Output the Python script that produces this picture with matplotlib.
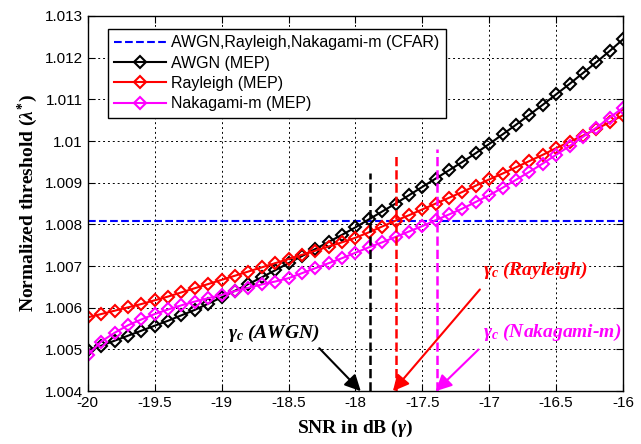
import numpy as np
import matplotlib
matplotlib.use('Agg')
import matplotlib.pyplot as plt
import matplotlib.lines as mlines

plt.rcParams['font.family'] = ['Liberation Sans', 'DejaVu Sans']
plt.rcParams['mathtext.fontset'] = 'custom'
plt.rcParams['mathtext.it'] = 'Liberation Serif:italic:bold'
plt.rcParams['mathtext.rm'] = 'Liberation Serif:bold'
plt.rcParams['mathtext.bf'] = 'Liberation Serif:bold'

# SNR grid (dB)
snr = [-20.0, -19.9, -19.8, -19.7, -19.6, -19.5, -19.4, -19.3, -19.2, -19.1,
       -19.0, -18.9, -18.8, -18.7, -18.6, -18.5, -18.4, -18.3, -18.2, -18.1,
       -18.0, -17.9, -17.8, -17.7, -17.6, -17.5, -17.4, -17.3, -17.2, -17.1,
       -17.0, -16.9, -16.8, -16.7, -16.6, -16.5, -16.4, -16.3, -16.2, -16.1,
       -16.0]

awgn_mep = [1.00498, 1.00509, 1.00521, 1.00533, 1.00545, 1.00557, 1.00569, 1.00582, 1.00595, 1.00610,
            1.00625, 1.00641, 1.00657, 1.00673, 1.00690, 1.00707, 1.00724, 1.00741, 1.00758, 1.00775,
            1.00793, 1.00812, 1.00831, 1.00850, 1.00870, 1.00890, 1.00910, 1.00930, 1.00950, 1.00971,
            1.00993, 1.01016, 1.01039, 1.01063, 1.01087, 1.01112, 1.01137, 1.01163, 1.01189, 1.01216,
            1.01244]

rayleigh_mep = [1.00577, 1.00585, 1.00593, 1.00601, 1.00609, 1.00618, 1.00627, 1.00637, 1.00647, 1.00657,
                1.00667, 1.00677, 1.00687, 1.00697, 1.00707, 1.00717, 1.00727, 1.00737, 1.00747, 1.00757,
                1.00768, 1.00781, 1.00795, 1.00809, 1.00822, 1.00836, 1.00850, 1.00864, 1.00878, 1.00893,
                1.00908, 1.00922, 1.00937, 1.00952, 1.00967, 1.00983, 1.00998, 1.01013, 1.01029, 1.01045,
                1.01062]

nakagami_mep = [1.00487, 1.00519, 1.00540, 1.00558, 1.00572, 1.00585, 1.00596, 1.00606, 1.00615, 1.00623,
                1.00631, 1.00640, 1.00648, 1.00656, 1.00663, 1.00671, 1.00683, 1.00695, 1.00707, 1.00719,
                1.00732, 1.00745, 1.00757, 1.00770, 1.00783, 1.00796, 1.00810, 1.00824, 1.00838, 1.00854,
                1.00870, 1.00888, 1.00907, 1.00926, 1.00946, 1.00967, 1.00988, 1.01010, 1.01032, 1.01056,
                1.01080]

cfar_level = 1.00808

# crossing points gamma_c (x position, top of dashed marker line)
gamma_c_names = ['AWGN', 'Rayleigh', 'Nakagami-m']
gamma_c_x = [-17.89, -17.70, -17.39]
gamma_c_top = [1.00924, 1.00966, 1.00980]
colors = ['black', 'red', 'magenta']

# label text positions, arrow starts and arrow tips
label_pos = [(-18.95, 1.00538), (-17.05, 1.00690), (-17.05, 1.00541)]
arrow_from = [(-18.27, 1.00503), (-17.07, 1.00644), (-17.08, 1.00500)]
arrow_to = [(-17.96, 1.0040), (-17.72, 1.0040), (-17.40, 1.0040)]

fig = plt.figure(figsize=(6.41, 4.44), dpi=100)
ax = fig.add_axes([0.137, 0.119, 0.835, 0.845])

ax.plot([-20, -16], [cfar_level, cfar_level], color='blue', linestyle='--', linewidth=1.5)
for ys, c in zip([awgn_mep, rayleigh_mep, nakagami_mep], colors):
    ax.plot(snr, ys, color=c, linewidth=1.5, marker='D', markersize=6.5,
            markerfacecolor='none', markeredgewidth=1.5)

for x, top, c in zip(gamma_c_x, gamma_c_top, colors):
    ax.plot([x, x], [1.004, top], color=c, linestyle='--', linewidth=1.8)

for name, c, pos, a0, a1 in zip(gamma_c_names, colors, label_pos, arrow_from, arrow_to):
    ax.text(pos[0], pos[1], r'$\gamma_c$ (' + name + ')', color=c, fontsize=14,
            family='Liberation Serif', weight='bold', style='italic', va='center')
    ax.annotate('', xy=a1, xytext=a0,
                arrowprops=dict(arrowstyle='-|>', color=c, lw=1.5, mutation_scale=24,
                                shrinkA=0, shrinkB=0))

ax.set_xlim(-20, -16)
ax.set_ylim(1.004, 1.013)
xt = [-20, -19.5, -19, -18.5, -18, -17.5, -17, -16.5, -16]
xtl = ['-20', '-19.5', '-19', '-18.5', '-18', '-17.5', '-17', '-16.5', '-16']
yt = [1.004, 1.005, 1.006, 1.007, 1.008, 1.009, 1.010, 1.011, 1.012, 1.013]
ytl = ['1.004', '1.005', '1.006', '1.007', '1.008', '1.009', '1.01', '1.011', '1.012', '1.013']
ax.set_xticks(xt)
ax.set_xticklabels(xtl)
ax.set_yticks(yt)
ax.set_yticklabels(ytl)
ax.tick_params(direction='in', top=True, right=True, labelsize=11, length=5)
ax.grid(True, color='black', linestyle=(0, (2, 3)), linewidth=0.7)
for s in ax.spines.values():
    s.set_linewidth(1.0)

ax.set_xlabel(r'SNR in dB ($\gamma$)', family='Liberation Serif', weight='bold', fontsize=14)
ax.set_ylabel(r'Normalized threshold ($\lambda^{*}$)', family='Liberation Serif', weight='bold',
              fontsize=14)
ax.xaxis.set_label_coords(0.5, -0.07)
ax.yaxis.set_label_coords(-0.09, 0.5)

handles_ = [mlines.Line2D([], [], color='blue', linestyle='--', linewidth=1.5,
                          label='AWGN,Rayleigh,Nakagami-m (CFAR)'),
            mlines.Line2D([], [], color='black', linewidth=1.5, marker='D', markersize=6.5,
                          markerfacecolor='none', markeredgewidth=1.5, label='AWGN (MEP)'),
            mlines.Line2D([], [], color='red', linewidth=1.5, marker='D', markersize=6.5,
                          markerfacecolor='none', markeredgewidth=1.5, label='Rayleigh (MEP)'),
            mlines.Line2D([], [], color='magenta', linewidth=1.5, marker='D', markersize=6.5,
                          markerfacecolor='none', markeredgewidth=1.5, label='Nakagami-m (MEP)')]
leg = ax.legend(handles=handles_, loc='upper left', bbox_to_anchor=(108 / 641, 1 - 29 / 444),
                bbox_transform=fig.transFigure, fontsize=11.5, fancybox=False, framealpha=1,
                edgecolor='black', handlelength=3.2, handletextpad=0.35, labelspacing=0.33,
                borderaxespad=0, borderpad=0.4, numpoints=1)
leg.get_frame().set_linewidth(1.0)

plt.savefig('out.png', dpi=100)
